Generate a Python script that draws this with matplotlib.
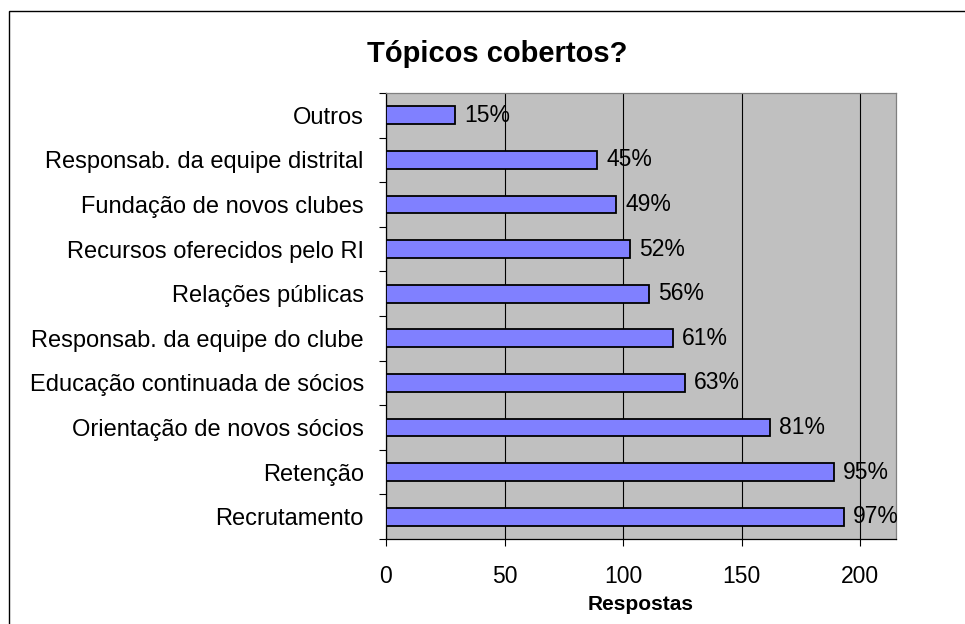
"""
  Bar chart of the topics covered (Tópicos cobertos?).
"""
import matplotlib
matplotlib.use("Agg")
import matplotlib.pyplot as plt
from matplotlib.patches import Rectangle
import numpy as np

topicos = [
    "Outros",
    "Responsab. da equipe distrital",
    "Fundação de novos clubes",
    "Recursos oferecidos pelo RI",
    "Relações públicas",
    "Responsab. da equipe do clube",
    "Educação continuada de sócios",
    "Orientação de novos sócios",
    "Retenção",
    "Recrutamento",
]
respostas = [29, 89, 97, 103, 111, 121, 126, 162, 189, 193]
percentuais = ["15%", "45%", "49%", "52%", "56%", "61%", "63%", "81%", "95%", "97%"]

plt.rcParams['font.family'] = ['Liberation Sans', 'DejaVu Sans']

W, H = 965, 624
fig = plt.figure(figsize=(W / 100, H / 100), dpi=100)

# moldura do grafico (cortada a direita e embaixo como no original)
fig.patches.append(Rectangle((9 / W, -0.05), 1.1, 1 - 11 / H + 0.05,
                             transform=fig.transFigure, fill=False,
                             edgecolor='black', linewidth=1.0))

ax = fig.add_axes([386 / W, 1 - 539 / H, (896 - 386) / W, (539 - 93) / H])
ax.set_facecolor('#C0C0C0')

y = np.arange(len(topicos))
bars = ax.barh(y, respostas, height=0.4, color='#8080FF',
               edgecolor='black', linewidth=1.3, zorder=3)
ax.bar_label(bars, labels=percentuais, padding=6.5, fontsize=16.5)

ax.set_xlim(0, 215)
ax.set_ylim(len(topicos) - 0.5, -0.5)
ax.set_xticks([0, 50, 100, 150, 200])
ax.grid(axis='x', color='black', linewidth=0.8, zorder=1)

ax.set_yticks(y)
ax.set_yticklabels(topicos)
ax.set_yticks(np.arange(len(topicos) + 1) - 0.5, minor=True)
ax.tick_params(axis='y', which='major', length=0, pad=16, labelsize=17)
ax.tick_params(axis='y', which='minor', length=5, width=0.8, color='black')
ax.tick_params(axis='x', which='major', length=5, width=0.8, pad=14,
               labelsize=16.5)

for side in ['left', 'bottom']:
    ax.spines[side].set_color('black')
    ax.spines[side].set_linewidth(0.9)
for side in ['top', 'right']:
    ax.spines[side].set_color('#808080')
    ax.spines[side].set_linewidth(0.9)

ax.set_xlabel('Respostas', fontsize=15, fontweight='bold', labelpad=5)
fig.text(497 / W, 1 - 62 / H, 'Tópicos cobertos?', fontsize=21,
         fontweight='bold', ha='center', va='baseline')

fig.savefig('out.png', dpi=100)
plt.close(fig)
